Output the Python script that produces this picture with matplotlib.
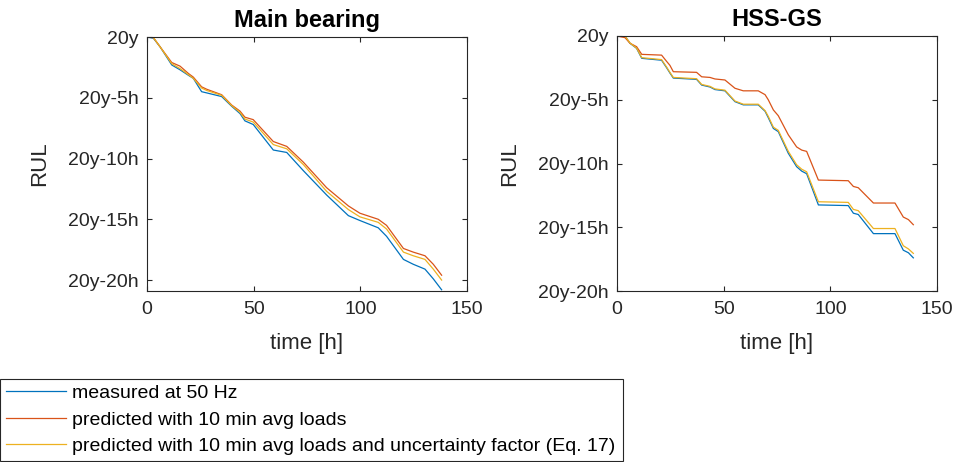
import matplotlib
matplotlib.use('Agg')
from matplotlib import pyplot as plt
import numpy as np

# RUL offsets in hours relative to 20 years
mb_time = [0, 3, 6.1, 11.6, 15.5, 19.4, 21.7, 25.6, 28, 35, 39.7, 43.6, 45.9, 49.8,
           59.2, 65.5, 73.3, 84.2, 94.4, 99.8, 108.4, 112.3, 120.2, 124.8, 130.3,
           134.2, 138.1]
mb_measured = [0, -0.1, -0.8, -2.3, -2.7, -3.15, -3.4, -4.5, -4.6, -4.9, -5.7, -6.3,
               -6.9, -7.2, -9.3, -9.5, -11.0, -13.0, -14.7, -15.1, -15.7, -16.4, -18.3,
               -18.7, -19.1, -19.9, -20.8]
mb_pred = [0, -0.05, -0.8, -2.1, -2.4, -3.0, -3.3, -4.1, -4.3, -4.75, -5.6, -6.1,
           -6.6, -6.8, -8.6, -9.0, -10.3, -12.4, -13.9, -14.5, -15.0, -15.5, -17.4,
           -17.7, -18.0, -18.7, -19.6]
mb_pred_unc = [0, -0.05, -0.8, -2.2, -2.6, -3.1, -3.4, -4.2, -4.4, -4.8, -5.65, -6.2,
               -6.75, -7.0, -8.85, -9.2, -10.5, -12.7, -14.2, -14.8, -15.25, -15.8,
               -17.7, -18.0, -18.3, -19.1, -20.0]

gs_time = [0, 3.75, 6.1, 9.2, 11.6, 20.9, 23.3, 24.8, 26.4, 37.3, 39.7, 43.6, 45.9,
           50.6, 55.3, 59.2, 66.2, 69.4, 70.9, 73.3, 75.6, 80.3, 84.2, 86.6, 88.9,
           94.4, 108.4, 110.8, 113.1, 120.2, 130.3, 134.2, 136.6, 138.9]
gs_measured = [0, 0, -0.57, -0.97, -1.75, -1.9, -2.5, -2.9, -3.3, -3.4, -3.85, -4.0,
               -4.2, -4.3, -5.15, -5.4, -5.4, -5.9, -6.4, -7.25, -7.5, -9.2, -10.25,
               -10.6, -10.8, -13.25, -13.3, -13.9, -14.0, -15.5, -15.5, -16.8, -17.0,
               -17.4]
gs_pred = [0, -0.13, -0.57, -0.84, -1.44, -1.5, -2.0, -2.3, -2.8, -2.85, -3.2, -3.25,
           -3.37, -3.45, -4.1, -4.3, -4.3, -4.6, -5.0, -5.8, -6.25, -7.75, -8.7, -8.95,
           -9.05, -11.3, -11.35, -11.8, -11.9, -13.1, -13.1, -14.2, -14.4, -14.8]
gs_pred_unc = [0, 0, -0.55, -0.95, -1.7, -1.85, -2.45, -2.85, -3.25, -3.35, -3.8,
               -3.95, -4.15, -4.25, -5.1, -5.35, -5.35, -5.85, -6.3, -7.15, -7.4, -9.05,
               -10.1, -10.45, -10.65, -13.0, -13.05, -13.6, -13.7, -15.1, -15.1, -16.45,
               -16.7, -17.05]

x_ticks = [0, 50, 100, 150]
y_ticks = [0, -5, -10, -15, -20]
y_ticklabels = ['20y', '20y-5h', '20y-10h', '20y-15h', '20y-20h']
labels = ['measured at 50 Hz', 'predicted with 10 min avg loads',
          'predicted with 10 min avg loads and uncertainty factor (Eq. 17)']
colors = ['#0072BD', '#D95319', '#EDB120']

plt.rcParams['font.family'] = ['Liberation Sans', 'DejaVu Sans']
axcol = '#262626'

fig = plt.figure(figsize=(9.65, 4.62), dpi=100)
W, H = 965.0, 462.0


def setup(ax, title, ylim):
    ax.set_xlim(0, 150)
    ax.set_ylim(*ylim)
    ax.set_xticks(x_ticks)
    ax.set_yticks(y_ticks)
    ax.set_yticklabels(y_ticklabels)
    ax.tick_params(direction='in', length=3.5, width=0.8, top=True, right=True,
                   labelsize=14, colors=axcol, pad=6)
    ax.tick_params(axis='x', pad=7)
    for s in ax.spines.values():
        s.set_color(axcol)
        s.set_linewidth(0.8)
    ax.set_xlabel('time [h]', fontsize=16, color=axcol, labelpad=11)
    ax.set_ylabel('RUL', fontsize=16, color=axcol)
    ax.yaxis.set_label_coords(-0.303, 0.5)
    ax.set_title(title, fontsize=17, fontweight='bold', color='black', pad=7)


ax1 = fig.add_axes([147 / W, (H - 291) / H, 320 / W, 254 / H])
lines = []
for ys, c in zip([mb_measured, mb_pred, mb_pred_unc], colors):
    l, = ax1.plot(mb_time, ys, color=c, lw=0.9)
    lines.append(l)
setup(ax1, 'Main bearing', (-20.9, 0))

ax2 = fig.add_axes([617 / W, (H - 291) / H, 320 / W, 255 / H])
for ys, c in zip([gs_measured, gs_pred, gs_pred_unc], colors):
    ax2.plot(gs_time, ys, color=c, lw=0.9)
setup(ax2, 'HSS-GS', (-20, 0))

leg = fig.legend(lines, labels, loc='lower left',
                 bbox_to_anchor=(0, 1 / H, 623 / W, 84 / H), mode='expand',
                 borderaxespad=0, fontsize=14, handlelength=3.1, handletextpad=0.3,
                 borderpad=0.3, labelspacing=0.46, fancybox=False, framealpha=1)
leg.get_frame().set_edgecolor(axcol)
leg.get_frame().set_linewidth(0.8)

fig.savefig('out.png', dpi=100)
